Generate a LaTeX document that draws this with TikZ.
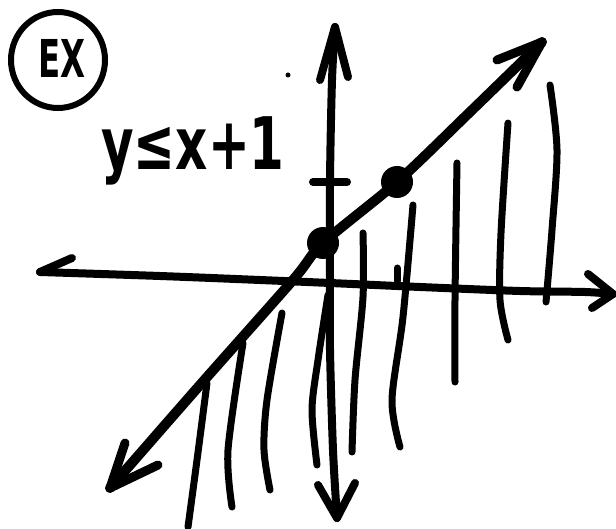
\documentclass[tikz,border=0pt]{standalone}
\usepackage{fontspec}
\usepackage{tikz}
\newfontfamily\handfont{DejaVu Sans}
\tikzset{axisline/.style={line width=8pt,line cap=round,line join=round,inkblack},
graphline/.style={line width=10pt,line cap=round,line join=round,inkblack},
barb/.style={line width=8pt,line cap=round,inkblack},
shade/.style={line width=7pt,line cap=round,inkblack},
handtext/.style={inkblack}}
\definecolor{inkblack}{HTML}{000000}

\begin{document}
\begin{tikzpicture}[x=1pt,y=-1pt]
\useasboundingbox (0,0) rectangle (616,529);
% label circle
\draw[inkblack,line width=6pt] (58,60) ellipse (47 and 48);
\node[handtext,font=\handfont\bfseries\fontsize{36}{36}\selectfont,xscale=.9,yscale=1.45] (ex) at (62,58) {EX};
\node[handtext,font=\handfont\bfseries\fontsize{50}{50}\selectfont,xscale=1,yscale=1.45,anchor=base] (ineq) at (193,170) {y≤x+1};
\fill[inkblack] (288,75) circle (2.5);
% axes
\coordinate (xl) at (40,272); \coordinate (xr) at (613,294);
\coordinate (yt) at (335,27); \coordinate (yb) at (337,518);
\draw[axisline] plot[smooth] coordinates {(xl) (160,276) (260,280) (330,283) (420,287) (520,291) (585,292) (xr)};
\draw[axisline] plot[smooth] coordinates {(yt) (332,80) (330,180) (330,283) (330,350) (333,450) (yb)};
\draw[barb] (xl)--(72,258);
\draw[barb] (xr)--(588,274) (xr)--(592,308);
\draw[barb] (yt)--(320,80) (yt)--(348,77);
\draw[barb] (yb)--(318,485) (yb)--(355,483);
\draw[barb] (313,182)--(347,182);
\draw[barb,line width=7pt] (397,268)--(397,281);
% boundary line y=x+1
\coordinate (lb) at (110,488); \coordinate (lt) at (542,42);
\coordinate (p0) at (323,243); \coordinate (p1) at (397,182);
\draw[graphline] plot[smooth] coordinates {(lb) (200,385) (293,280) (p0) (p1) (470,112) (lt)};
\draw[barb,line width=9pt] (lt)--(497,60) (lt)--(517,87);
\draw[barb,line width=9pt] (lb)--(125,443) (lb)--(158,465);
\fill[inkblack] (p0) circle (16) (p1) circle (16);
% shading below the line
\draw[shade] plot[smooth] coordinates {(207,383) (197,460) (188,527)};
\draw[shade] plot[smooth] coordinates {(243,343) (228,450) (232,507)};
\draw[shade] plot[smooth] coordinates {(282,313) (267,400) (264,450) (270,490)};
\draw[shade] plot[smooth] coordinates {(328,295) (318,360) (312,410) (317,465)};
\draw[shade] plot[smooth] coordinates {(363,233) (363,297) (355,380) (352,452)};
\draw[shade] plot[smooth] coordinates {(413,205) (403,317) (392,400) (400,447)};
\draw[shade] plot[smooth] coordinates {(457,163) (455,300) (455,382)};
\draw[shade] plot[smooth] coordinates {(508,123) (501,233) (500,300) (508,340)};
\draw[shade] plot[smooth] coordinates {(550,85) (557,150) (552,230) (546,302)};
\end{tikzpicture}
\end{document}
